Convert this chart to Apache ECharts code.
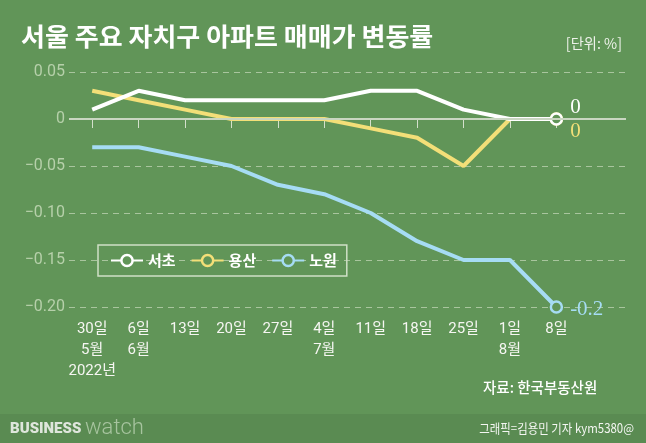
<!DOCTYPE html>
<html><head><meta charset="utf-8">
<script src="https://cdn.jsdelivr.net/npm/echarts@6/dist/echarts.min.js"></script>
<style>html,body{margin:0;padding:0;background:#619558}#c{width:646px;height:443px}</style>
</head><body><div id="c"></div>
<script>
const categories = ['30일\n5월\n2022년','6일\n6월','13일','20일','27일','4일\n7월','11일','18일','25일','1일\n8월','8일',''];
const seocho = [0.01,0.03,0.02,0.02,0.02,0.02,0.03,0.03,0.01,0,0];
const yongsan = [0.03,0.02,0.01,0,0,0,-0.01,-0.02,-0.05,0,0];
const nowon = [-0.03,-0.03,-0.04,-0.05,-0.07,-0.08,-0.10,-0.13,-0.15,-0.15,-0.20];
const seriesNames = ['서초','용산','노원'];
const endLabels = ['0','0','-0.2'];
const yTickLabels = ['\u22120.20','\u22120.15','\u22120.10','\u22120.05','0','0.05'];

const BG = '#619558';
const COLORS = ['#ffffff','#f3df78','#a6dcf4'];
const KR = '"Noto Sans CJK KR", sans-serif';

function mk(idx, values, offset, z) {
  const last = values.length - 1;
  const color = COLORS[idx];
  return {
    name: seriesNames[idx], type: 'line', z: z,
    data: values.map((v, i) => i === last ? {
      value: v,
      label: {
        show: true, position: 'right', distance: 7, offset: offset,
        formatter: endLabels[idx], color: color,
        fontFamily: '"Liberation Serif", serif', fontSize: 21
      }
    } : v),
    symbol: 'circle', showAllSymbol: true,
    symbolSize: (v, p) => p.dataIndex === last ? 11 : 0,
    lineStyle: { color: color, width: 4 },
    itemStyle: { color: BG, borderColor: color, borderWidth: 2.5 },
    emphasis: { disabled: true },
    silent: true
  };
}

const chart = echarts.init(document.getElementById('c'));
const s3 = mk(2, nowon, [0, 2], 2);
s3.markLine = {
  silent: true, symbol: 'none', label: { show: false },
  lineStyle: { color: '#c9d6c1', width: 2, type: 'solid' },
  data: [{ yAxis: 0 }]
};
chart.setOption({
  animation: false,
  backgroundColor: BG,
  grid: { left: 69, right: 20, top: 72, bottom: 136 },
  legend: {
    left: 98, top: 245,
    padding: [8, 10, 8, 12],
    itemGap: 15, itemWidth: 32, itemHeight: 14,
    borderColor: '#cfe0c6', borderWidth: 1.5,
    textStyle: { color: '#ffffff', fontSize: 15, fontFamily: KR, fontWeight: 'bold' },
    itemStyle: { color: BG, borderColor: 'inherit', borderWidth: 2.5 },
    data: seriesNames
  },
  xAxis: {
    type: 'category', data: categories, boundaryGap: true,
    axisLine: { show: false },
    axisTick: { show: true, alignWithLabel: true, length: 9,
      interval: (i, v) => v !== '',
      lineStyle: { color: '#d4e0cc', width: 1 } },
    axisLabel: { color: '#f6f6f2', fontSize: 15, lineHeight: 21, margin: 12,
      interval: 0, fontFamily: 'Roboto, ' + KR },
    splitLine: { show: false }
  },
  yAxis: {
    type: 'value', min: -0.2, max: 0.05, interval: 0.05,
    axisLine: { show: false }, axisTick: { show: false },
    axisLabel: { color: '#b6d0aa', fontSize: 16, margin: 4, fontFamily: 'Roboto, sans-serif',
      formatter: (v, i) => yTickLabels[i] },
    splitLine: { lineStyle: { color: '#a9c59e', type: [6, 5], width: 1 } }
  },
  series: [mk(0, seocho, [0, -12], 4), mk(1, yongsan, [0, 12], 3), s3],
  graphic: [
    { type: 'rect', shape: { x: 0, y: 414, width: 646, height: 29 }, style: { fill: '#5a8b52' }, z: -1, silent: true },
    { type: 'text', x: 21, y: 36, scaleX: 1.04, silent: true,
      style: { text: '서울 주요 자치구 아파트 매매가 변동률', fill: '#ffffff', font: 'bold 25px ' + KR, verticalAlign: 'middle' } },
    { type: 'text', x: 622, y: 43, scaleX: 0.95, silent: true,
      style: { text: '[단위: %]', fill: '#eef2ea', font: '15px ' + KR, align: 'right', verticalAlign: 'middle' } },
    { type: 'text', x: 483, y: 387, silent: true,
      style: { text: '자료: 한국부동산원', fill: '#ffffff', font: '500 14.5px ' + KR, verticalAlign: 'middle' } },
    { type: 'text', x: 10, y: 429, silent: true,
      style: { text: 'BUSINESS', fill: '#dfe6dc', font: '900 15px Roboto', verticalAlign: 'middle' } },
    { type: 'text', x: 85, y: 428, silent: true,
      style: { text: 'watch', fill: '#a7c49f', font: '300 22px Roboto', verticalAlign: 'middle' } },
    { type: 'text', x: 634, y: 428, scaleX: 0.88, silent: true,
      style: { text: '그래픽=김용민 기자 kym5380@', fill: '#f4f6f2', font: '13px ' + KR, align: 'right', verticalAlign: 'middle' } }
  ]
});
</script></body></html>
